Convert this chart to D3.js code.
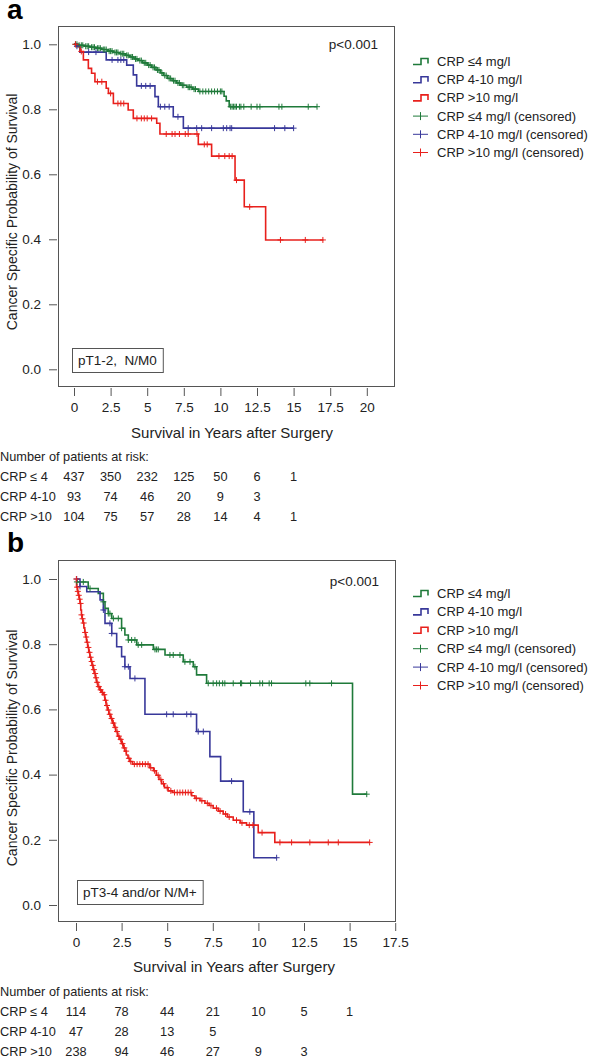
<!DOCTYPE html>
<html>
<head>
<meta charset="utf-8">
<script src="https://cdn.jsdelivr.net/npm/d3@7"></script>
<style>
  html, body { margin: 0; padding: 0; background: #fff; }
  svg { display: block; font-family: "Liberation Sans", Arial, sans-serif; }
</style>
</head>
<body>
<svg id="chart" width="600" height="1058"></svg>
<script>
// ---------- DATA ----------
const groupNames = ["CRP \u22644 mg/l", "CRP 4-10 mg/l", "CRP >10 mg/l"];
const censoredNames = ["CRP \u22644 mg/l (censored)", "CRP 4-10 mg/l (censored)", "CRP >10 mg/l (censored)"];
const groupColors = ["#1f7a3a", "#38389a", "#e8201c"];

const xTicksA = [0, 2.5, 5, 7.5, 10, 12.5, 15, 17.5, 20];
const xTicksB = [0, 2.5, 5, 7.5, 10, 12.5, 15, 17.5];
const yTicks = [0, 0.2, 0.4, 0.6, 0.8, 1.0];

// Panel a: step points [years, survival], end time, censored times
const greenA = [[0,1.0],[0.3,0.997],[0.7,0.994],[1.1,0.991],[1.5,0.988],[1.9,0.984],[2.3,0.979],[2.7,0.975],[3.1,0.971],[3.5,0.966],[3.8,0.961],[4.1,0.955],[4.4,0.950],[4.7,0.943],[5.0,0.936],[5.3,0.929],[5.6,0.921],[5.9,0.912],[6.1,0.904],[6.4,0.895],[6.7,0.888],[7.0,0.881],[7.3,0.874],[7.7,0.868],[8.1,0.862],[8.5,0.855],[10.25,0.840],[10.4,0.826],[10.6,0.808]];
const greenAEnd = 16.6;
const greenACens = [0.1,0.2,0.35,0.5,0.6,0.8,0.9,1.0,1.2,1.3,1.4,1.6,1.7,1.8,2.0,2.1,2.2,2.4,2.5,2.6,2.8,2.9,3.0,3.2,3.3,3.4,3.6,3.7,3.9,4.0,4.2,4.3,4.5,4.6,4.8,4.9,5.1,5.2,5.4,5.5,5.7,5.8,6.0,6.2,6.3,6.5,6.6,6.8,6.9,7.1,7.2,7.4,7.5,7.8,7.9,8.0,8.2,8.3,8.6,8.8,9.0,9.2,9.4,9.6,9.8,10.0,10.1,10.7,10.8,10.9,11.0,11.1,11.3,11.4,11.6,12.1,12.5,12.7,14.0,14.2,16.0,16.6];

const blueA = [[0,1.0],[0.1,0.994],[0.4,0.976],[2.2,0.952],[3.6,0.936],[4.05,0.906],[4.28,0.872],[5.53,0.839],[5.76,0.808],[6.78,0.777],[7.47,0.742]];
const blueAEnd = 15.0;
const blueACens = [0.2,1.0,1.5,2.6,3.0,3.2,3.4,4.6,4.9,5.2,5.9,6.2,6.5,7.1,7.8,8.38,8.72,9.4,10.2,10.43,10.66,10.77,13.7,14.4,15.0];

const redA = [[0,1.0],[0.2,0.993],[0.41,0.978],[0.64,0.952],[0.98,0.926],[1.2,0.911],[1.43,0.885],[2.2,0.865],[2.35,0.849],[2.69,0.818],[3.7,0.798],[4.05,0.772],[5.65,0.757],[5.87,0.724],[8.49,0.692],[9.4,0.656],[11.0,0.582],[11.63,0.500],[13.09,0.398]];
const redAEnd = 17.03;
const redACens = [0.1,0.5,1.6,1.9,2.5,3.0,3.2,3.4,4.3,4.6,4.8,5.0,5.3,6.3,6.7,6.9,7.2,7.6,7.8,8.4,8.9,9.1,9.9,10.3,10.6,10.8,11.1,12.0,14.1,15.8,17.0];

// Panel b
const greenB = [[0,1.0],[0.05,0.991],[0.67,0.971],[1.22,0.956],[1.5,0.930],[1.59,0.910],[1.77,0.894],[1.96,0.879],[2.5,0.849],[2.68,0.828],[2.87,0.813],[3.33,0.798],[4.24,0.784],[4.88,0.767],[5.88,0.746],[6.43,0.731],[6.61,0.706],[7.16,0.680],[15.16,0.340]];
const greenBEnd = 15.94;
const greenBCens = [0.05,0.4,0.77,1.5,1.77,1.86,2.05,2.32,2.5,2.87,3.05,3.23,3.41,3.6,4.33,4.42,4.51,5.15,5.33,5.7,5.97,6.25,6.52,7.25,7.52,7.71,7.86,8.04,8.16,8.62,9.02,9.08,9.57,10.08,10.23,10.59,10.72,12.6,12.82,14.01,15.94];

const blueB = [[0,1.0],[0.22,0.977],[0.59,0.961],[1.32,0.936],[1.5,0.905],[1.59,0.864],[1.96,0.833],[2.23,0.792],[2.5,0.762],[2.68,0.731],[2.96,0.695],[3.78,0.585],[6.61,0.532],[7.34,0.455],[7.93,0.380],[9.17,0.286],[9.75,0.145]];
const blueBEnd = 11.0;
const blueBCens = [0.04,0.22,1.5,1.86,1.96,2.68,2.87,3.23,4.97,5.33,6.07,6.3,6.7,6.98,8.53,9.53,11.0];

const redB = [[0,1.0],[0.03,0.975],[0.08,0.962],[0.13,0.950],[0.18,0.938],[0.22,0.925],[0.26,0.905],[0.30,0.890],[0.34,0.878],[0.38,0.865],[0.43,0.850],[0.48,0.836],[0.53,0.822],[0.58,0.806],[0.64,0.790],[0.70,0.775],[0.76,0.760],[0.82,0.747],[0.88,0.735],[0.94,0.722],[1.00,0.710],[1.06,0.697],[1.12,0.683],[1.20,0.670],[1.30,0.660],[1.40,0.652],[1.50,0.645],[1.58,0.628],[1.65,0.612],[1.72,0.598],[1.80,0.585],[1.90,0.572],[2.00,0.558],[2.10,0.545],[2.18,0.532],[2.28,0.518],[2.38,0.508],[2.50,0.495],[2.60,0.482],[2.68,0.472],[2.76,0.460],[2.85,0.450],[2.95,0.440],[3.10,0.432],[4.05,0.421],[4.25,0.412],[4.40,0.398],[4.55,0.385],[4.70,0.372],[4.85,0.360],[5.05,0.350],[5.30,0.345],[6.34,0.335],[6.52,0.327],[6.80,0.320],[7.07,0.312],[7.30,0.305],[7.52,0.297],[7.80,0.288],[8.07,0.279],[8.30,0.270],[8.62,0.260],[9.00,0.252],[9.35,0.245],[9.99,0.222],[10.9,0.192]];
const redBEnd = 16.1;
const redBCens = [0.02,0.06,0.1,0.15,0.2,0.25,0.3,0.36,0.42,0.5,0.56,0.62,0.68,0.74,0.8,0.86,0.92,0.98,1.05,1.1,1.16,1.25,1.35,1.45,1.55,1.62,1.7,1.78,1.85,1.95,2.05,2.15,2.25,2.35,2.45,2.55,2.65,2.75,2.9,3.0,3.2,3.35,3.5,3.65,3.8,3.95,4.1,4.3,4.5,4.65,4.8,5.0,5.2,5.4,5.55,5.7,5.85,6.0,6.15,6.3,6.6,6.9,7.2,7.4,7.7,7.9,8.2,8.4,8.8,9.1,9.5,9.7,10.2,11.18,11.82,12.82,13.83,14.38,16.1];

// Risk tables
const riskLabels = ["CRP \u2264 4", "CRP 4-10", "CRP >10"];
const riskTimes = [0, 2.5, 5, 7.5, 10, 12.5, 15];
const riskA1 = [437, 350, 232, 125, 50, 6, 1];
const riskA2 = [93, 74, 46, 20, 9, 3];
const riskA3 = [104, 75, 57, 28, 14, 4, 1];
const riskB1 = [114, 78, 44, 21, 10, 5, 1];
const riskB2 = [47, 28, 13, 5];
const riskB3 = [238, 94, 46, 27, 9, 3];

// ---------- DRAW ----------
const svg = d3.select("#chart");
svg.append("rect").attr("width", 600).attr("height", 1058).attr("fill", "#fff");

function survAt(steps, t) {
  let s = steps[0][1];
  for (const p of steps) { if (p[0] <= t + 1e-9) s = p[1]; }
  return s;
}

function drawPanel(cfg) {
  const g = svg.append("g");
  const x = d3.scaleLinear().domain([0, cfg.xTicks[cfg.xTicks.length - 1]]).range([cfg.x0, cfg.xEnd]);
  const y = d3.scaleLinear().domain([0, 1]).range([cfg.y0, cfg.y1]);

  // panel letter
  g.append("text").attr("x", 7).attr("y", cfg.letterY).attr("font-size", 28).attr("font-weight", "bold")
    .attr("font-family", "Liberation Sans, Arial, sans-serif").text(cfg.letter);

  // frame
  g.append("rect").attr("x", cfg.fx0 + 0.5).attr("y", cfg.fy0 + 0.5)
    .attr("width", cfg.fx1 - cfg.fx0).attr("height", cfg.fy1 - cfg.fy0)
    .attr("fill", "none").attr("stroke", "#555").attr("stroke-width", 1);

  // y axis
  const yAxis = d3.axisLeft(y).tickValues(yTicks).tickFormat(d3.format(".1f")).tickSize(8).tickPadding(8);
  const ya = g.append("g").attr("transform", `translate(${cfg.fx0 - 1},0)`).call(yAxis);
  ya.select(".domain").remove();
  ya.selectAll("line").attr("stroke", "#555");
  ya.selectAll("text").attr("font-size", 13.5).attr("fill", "#222").attr("font-family", "Liberation Sans, Arial, sans-serif");

  // x axis
  const xAxis = d3.axisBottom(x).tickValues(cfg.xTicks).tickFormat(d => String(d)).tickSize(8).tickPadding(6);
  const xa = g.append("g").attr("transform", `translate(0,${cfg.fy1 + 2})`).call(xAxis);
  xa.select(".domain").remove();
  xa.selectAll("line").attr("stroke", "#555");
  xa.selectAll("text").attr("font-size", 13.5).attr("fill", "#222").attr("font-family", "Liberation Sans, Arial, sans-serif");

  // axis titles
  g.append("text").attr("x", cfg.xTitleX).attr("y", cfg.xTitleY).attr("text-anchor", "middle")
    .attr("font-size", 15).attr("fill", "#222").text("Survival in Years after Surgery");
  g.append("text").attr("transform", `translate(17,${cfg.yTitleY}) rotate(-90)`).attr("text-anchor", "middle")
    .attr("font-size", 14).attr("fill", "#222").text("Cancer Specific Probability of Survival");

  // curves
  const line = d3.line().x(d => x(d[0])).y(d => y(d[1])).curve(d3.curveStepAfter);
  cfg.groups.forEach((grp, i) => {
    const pts = grp.steps.concat([[grp.end, grp.steps[grp.steps.length - 1][1]]]);
    g.append("path").attr("d", line(pts)).attr("fill", "none")
      .attr("stroke", groupColors[i]).attr("stroke-width", 1.6);
  });
  cfg.groups.forEach((grp, i) => {
    g.append("g").selectAll("path").data(grp.cens).join("path")
      .attr("d", t => {
        const cx = x(t), cy = y(survAt(grp.steps, t));
        return `M${cx - 3},${cy}H${cx + 3}M${cx},${cy - 3}V${cy + 3}`;
      })
      .attr("stroke", groupColors[i]).attr("stroke-width", 1).attr("fill", "none");
  });

  // p-value
  g.append("text").attr("x", cfg.fx1 - 16).attr("y", cfg.pY).attr("text-anchor", "end")
    .attr("font-size", 13.5).attr("fill", "#222").text("p<0.001");

  // label box
  const lb = g.append("g");
  const lt = lb.append("text").attr("x", cfg.boxX + 6).attr("y", cfg.boxY + 17).attr("font-size", 13.5)
    .attr("fill", "#222").attr("xml:space", "preserve").style("white-space", "pre").text(cfg.boxText);
  const bw = lt.node().getComputedTextLength();
  lb.insert("rect", "text").attr("x", cfg.boxX + 0.5).attr("y", cfg.boxY + 0.5).attr("width", bw + 12).attr("height", 24)
    .attr("fill", "#fff").attr("stroke", "#555").attr("stroke-width", 1);

  // legend
  const lg = g.append("g");
  groupNames.concat(censoredNames).forEach((name, k) => {
    const cy = cfg.legY + k * cfg.legStep;
    const col = groupColors[k % 3];
    if (k < 3) {
      lg.append("path").attr("d", `M413,${cy + 3}H421V${cy - 3}H428V${cy + 2}`)
        .attr("fill", "none").attr("stroke", col).attr("stroke-width", 1.6);
    } else {
      lg.append("path").attr("d", `M413,${cy}H428M420.5,${cy - 4}V${cy + 4}`)
        .attr("fill", "none").attr("stroke", col).attr("stroke-width", 1);
    }
    lg.append("text").attr("x", 437).attr("y", cy + 4.5).attr("font-size", 13).attr("fill", "#222").text(name);
  });

  // risk table
  const rt = g.append("g").attr("font-size", 12.75).attr("fill", "#222");
  rt.append("text").attr("x", 0).attr("y", cfg.riskY).text("Number of patients at risk:");
  cfg.risk.forEach((row, r) => {
    const ry = cfg.riskY + 20 * (r + 1);
    rt.append("text").attr("x", 0).attr("y", ry).text(riskLabels[r]);
    rt.selectAll(null).data(row).join("text")
      .attr("x", (d, j) => x(riskTimes[j])).attr("y", ry).attr("text-anchor", "middle").text(d => d);
  });
}

drawPanel({
  letter: "a", letterY: 19,
  fx0: 58, fx1: 394, fy0: 26, fy1: 386,
  x0: 74, xEnd: 366.8, y0: 369.3, y1: 44.3,
  xTicks: xTicksA,
  xTitleX: 232, xTitleY: 437.5, yTitleY: 212,
  pY: 49, boxX: 72, boxY: 348, boxText: "pT1-2,  N/M0",
  legY: 61.5, legStep: 18.2,
  groups: [
    {steps: greenA, end: greenAEnd, cens: greenACens},
    {steps: blueA, end: blueAEnd, cens: blueACens},
    {steps: redA, end: redAEnd, cens: redACens}
  ],
  riskY: 461, risk: [riskA1, riskA2, riskA3]
});

drawPanel({
  letter: "b", letterY: 552,
  fx0: 58, fx1: 395, fy0: 560, fy1: 921,
  x0: 76, xEnd: 395.2, y0: 905, y1: 579,
  xTicks: xTicksB,
  xTitleX: 234, xTitleY: 972, yTitleY: 748,
  pY: 586, boxX: 77, boxY: 880, boxText: "pT3-4 and/or N/M+",
  legY: 593.5, legStep: 18.4,
  groups: [
    {steps: greenB, end: greenBEnd, cens: greenBCens},
    {steps: blueB, end: blueBEnd, cens: blueBCens},
    {steps: redB, end: redBEnd, cens: redBCens}
  ],
  riskY: 996, risk: [riskB1, riskB2, riskB3]
});
</script>
</body>
</html>
